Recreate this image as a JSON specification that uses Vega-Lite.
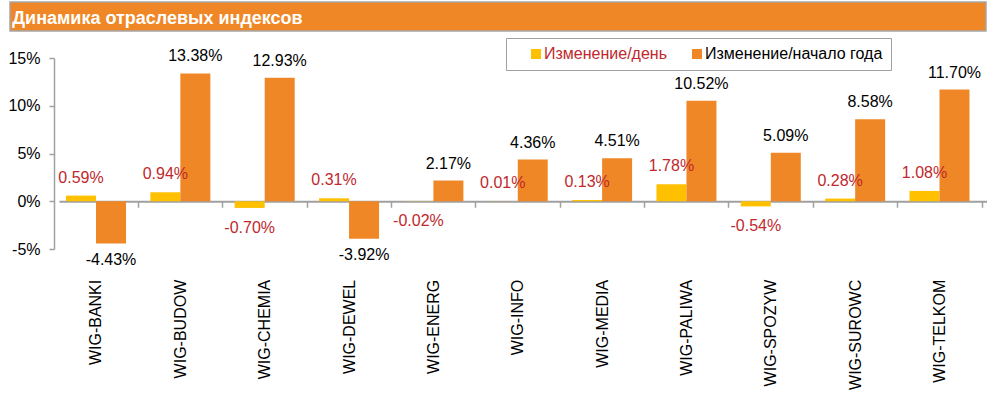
{
  "$schema": "https://vega.github.io/schema/vega-lite/v6.json",
  "padding": {"left": 7, "top": 1, "right": 10, "bottom": 5},
  "background": "white",
  "config": {
    "font": "Liberation Sans",
    "view": {"stroke": null},
    "locale": {"number": {"decimal": ".", "thousands": ",", "grouping": [3], "currency": ["$", ""], "minus": "-"}}
  },
  "spacing": 5,
  "resolve": {"scale": {"color": "independent"}, "legend": {"color": "independent"}},
  "vconcat": [
    {
      "width": 976,
      "height": 29,
      "title": {
        "text": "Динамика отраслевых индексов",
        "anchor": "start",
        "offset": -27,
        "dx": 3,
        "color": "white",
        "fontSize": 18,
        "fontWeight": "bold",
        "font": "Liberation Sans"
      },
      "data": {"values": [{"part": "header"}]},
      "mark": {"type": "rect", "color": "#EF8726", "stroke": "#A6A6A6", "strokeWidth": 1.5},
      "encoding": {}
    },
    {
      "width": 978,
      "height": 191,
      "data": {
        "values": [
          {"index": "WIG-BANKI", "type": "Изменение/день", "value": 0.0059},
          {"index": "WIG-BANKI", "type": "Изменение/начало года", "value": -0.0443},
          {"index": "WIG-BUDOW", "type": "Изменение/день", "value": 0.0094},
          {"index": "WIG-BUDOW", "type": "Изменение/начало года", "value": 0.1338},
          {"index": "WIG-CHEMIA", "type": "Изменение/день", "value": -0.0070},
          {"index": "WIG-CHEMIA", "type": "Изменение/начало года", "value": 0.1293},
          {"index": "WIG-DEWEL", "type": "Изменение/день", "value": 0.0031},
          {"index": "WIG-DEWEL", "type": "Изменение/начало года", "value": -0.0392},
          {"index": "WIG-ENERG", "type": "Изменение/день", "value": -0.0002},
          {"index": "WIG-ENERG", "type": "Изменение/начало года", "value": 0.0217},
          {"index": "WIG-INFO", "type": "Изменение/день", "value": 0.0001},
          {"index": "WIG-INFO", "type": "Изменение/начало года", "value": 0.0436},
          {"index": "WIG-MEDIA", "type": "Изменение/день", "value": 0.0013},
          {"index": "WIG-MEDIA", "type": "Изменение/начало года", "value": 0.0451},
          {"index": "WIG-PALIWA", "type": "Изменение/день", "value": 0.0178},
          {"index": "WIG-PALIWA", "type": "Изменение/начало года", "value": 0.1052},
          {"index": "WIG-SPOZYW", "type": "Изменение/день", "value": -0.0054},
          {"index": "WIG-SPOZYW", "type": "Изменение/начало года", "value": 0.0509},
          {"index": "WIG-SUROWC", "type": "Изменение/день", "value": 0.0028},
          {"index": "WIG-SUROWC", "type": "Изменение/начало года", "value": 0.0858},
          {"index": "WIG-TELKOM", "type": "Изменение/день", "value": 0.0108},
          {"index": "WIG-TELKOM", "type": "Изменение/начало года", "value": 0.1170}
        ]
      },
      "encoding": {
        "x": {
          "field": "index",
          "type": "nominal",
          "sort": null,
          "scale": {"paddingInner": 0.2887, "paddingOuter": 0.4416, "align": 0.7517},
          "axis": {
            "title": null,
            "offset": -47.75,
            "domain": true,
            "domainColor": "#A0A0A0",
            "domainWidth": 2,
            "domainDash": [0, 49, 927.5, 200],
            "tickSize": 6,
            "tickColor": "#A0A0A0",
            "tickWidth": 1.5,
            "tickOffset": 42,
            "labelOffset": -42,
            "labelAngle": -90,
            "labelAlign": "right",
            "labelBaseline": "middle",
            "labelPadding": 72,
            "labelFontSize": 16,
            "labelColor": "black",
            "labelLimit": 300
          }
        },
        "y": {
          "field": "value",
          "type": "quantitative",
          "scale": {"domain": [-0.05, 0.15], "nice": false},
          "axis": {
            "title": null,
            "offset": -44,
            "values": [-0.05, 0, 0.05, 0.1, 0.15],
            "format": ".0%",
            "grid": false,
            "domainColor": "#A0A0A0",
            "domainWidth": 1.5,
            "tickColor": "#A0A0A0",
            "tickWidth": 1.5,
            "tickSize": 5,
            "labelPadding": 9,
            "labelFontSize": 16,
            "labelColor": "black"
          }
        },
        "xOffset": {"field": "type", "sort": ["Изменение/день", "Изменение/начало года"], "scale": {"paddingInner": 0, "paddingOuter": 0}}
      },
      "layer": [
        {
          "mark": {"type": "bar"},
          "encoding": {
            "color": {
              "field": "type",
              "type": "nominal",
              "scale": {"domain": ["Изменение/день", "Изменение/начало года"], "range": ["#FFC000", "#EF8726"]},
              "legend": {
                "title": null,
                "orient": "none",
                "legendX": 496,
                "legendY": -20,
                "direction": "horizontal",
                "strokeColor": "#A0A0A0",
                "fillColor": "white",
                "padding": 8,
                "symbolType": "square",
                "symbolSize": 100,
                "symbolStrokeWidth": 0,
                "symbolOffset": 14,
                "labelFontSize": 16,
                "labelOffset": 0,
                "labelLimit": 400,
                "columnPadding": 8,
                "encode": {
                  "labels": {"update": {"fill": {"signal": "datum.value === 'Изменение/день' ? '#C0282D' : '#000000'"}}}
                }
              }
            }
          }
        },
        {
          "transform": [{"filter": "datum.value >= 0 && datum.type === 'Изменение/день'"}],
          "mark": {"type": "text", "baseline": "alphabetic", "dy": -13, "fontSize": 16, "color": "#C0282D"},
          "encoding": {"text": {"field": "value", "type": "quantitative", "format": ".2%"}}
        },
        {
          "transform": [{"filter": "datum.value >= 0 && datum.type !== 'Изменение/день'"}],
          "mark": {"type": "text", "baseline": "alphabetic", "dy": -12, "fontSize": 16, "color": "#000000"},
          "encoding": {"text": {"field": "value", "type": "quantitative", "format": ".2%"}}
        },
        {
          "transform": [{"filter": "datum.value < 0 && datum.type === 'Изменение/день'"}],
          "mark": {"type": "text", "baseline": "alphabetic", "dy": 25, "fontSize": 16, "color": "#C0282D"},
          "encoding": {"text": {"field": "value", "type": "quantitative", "format": ".2%"}}
        },
        {
          "transform": [{"filter": "datum.value < 0 && datum.type !== 'Изменение/день'"}],
          "mark": {"type": "text", "baseline": "alphabetic", "dy": 21, "fontSize": 16, "color": "#000000"},
          "encoding": {"text": {"field": "value", "type": "quantitative", "format": ".2%"}}
        }
      ]
    }
  ]
}
